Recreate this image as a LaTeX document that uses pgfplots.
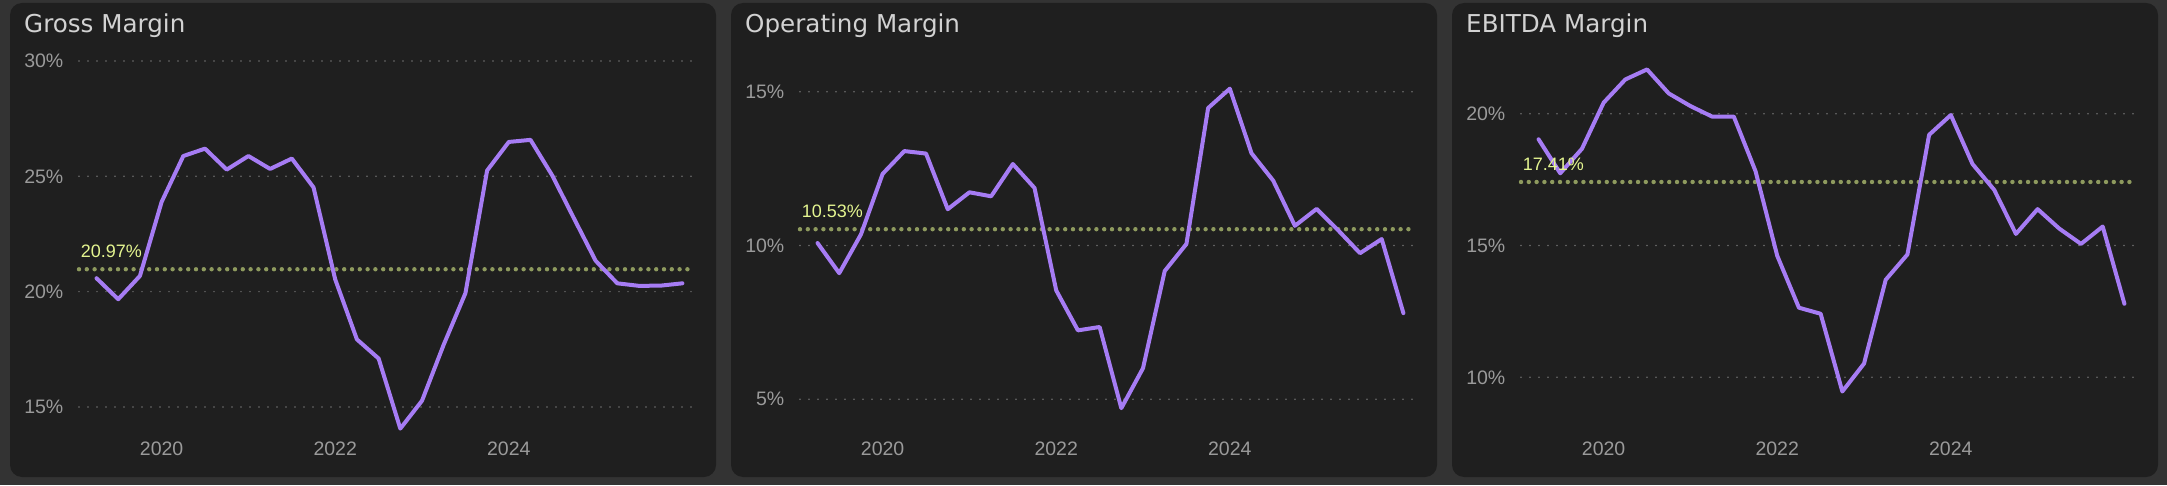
\documentclass[border=0pt]{standalone}
\usepackage{fontspec}
\setmainfont{Liberation Sans}
\newfontfamily\titlefont{DejaVu Sans}
\usepackage{pgfplots}
\pgfplotsset{compat=1.18}
\usepackage{pgfplotstable}

\definecolor{outerbg}{HTML}{333333}
\definecolor{panelbg}{HTML}{1F1F1F}
\definecolor{titlecol}{HTML}{D2D2D2}
\definecolor{tickcol}{HTML}{9A9A9A}
\definecolor{gridcol}{HTML}{6E6E6E}
\definecolor{linecol}{HTML}{A67CF4}
\definecolor{meancol}{HTML}{8E9A5E}
\definecolor{meantext}{HTML}{E4F590}

\pgfplotstableread{
x y
2019.25 20.58
2019.50 19.67
2019.75 20.68
2020.00 23.89
2020.25 25.88
2020.50 26.20
2020.75 25.29
2021.00 25.88
2021.25 25.32
2021.50 25.77
2021.75 24.52
2022.00 20.53
2022.25 17.93
2022.50 17.10
2022.75 14.06
2023.00 15.27
2023.25 17.70
2023.50 19.93
2023.75 25.25
2024.00 26.49
2024.25 26.58
2024.50 25.04
2024.75 23.18
2025.00 21.34
2025.25 20.36
2025.50 20.25
2025.75 20.26
2026.00 20.36
}\gross

\pgfplotstableread{
x y
2019.25 10.08
2019.50 9.10
2019.75 10.36
2020.00 12.33
2020.25 13.07
2020.50 12.99
2020.75 11.18
2021.00 11.73
2021.25 11.60
2021.50 12.65
2021.75 11.87
2022.00 8.54
2022.25 7.24
2022.50 7.35
2022.75 4.71
2023.00 6.01
2023.25 9.17
2023.50 10.05
2023.75 14.47
2024.00 15.10
2024.25 13.00
2024.50 12.11
2024.75 10.64
2025.00 11.19
2025.25 10.49
2025.50 9.75
2025.75 10.21
2026.00 7.80
}\operating

\pgfplotstableread{
x y
2019.25 19.03
2019.50 17.74
2019.75 18.67
2020.00 20.42
2020.25 21.30
2020.50 21.68
2020.75 20.77
2021.00 20.29
2021.25 19.89
2021.50 19.89
2021.75 17.82
2022.00 14.61
2022.25 12.64
2022.50 12.41
2022.75 9.46
2023.00 10.52
2023.25 13.70
2023.50 14.66
2023.75 19.20
2024.00 19.95
2024.25 18.09
2024.50 17.11
2024.75 15.44
2025.00 16.38
2025.25 15.64
2025.50 15.06
2025.75 15.72
2026.00 12.79
}\ebitda

\pgfplotsset{panel/.style={
  scale only axis, width=612.5pt, height=369pt,
  xmin=2019.048, xmax=2026.105,
  clip=false,
  axis line style={draw=none},
  major tick length=0pt,
  ymajorgrids, xmajorgrids=false,
  major grid style={gridcol, line width=1.7pt, line cap=round, dash pattern=on 0pt off 9pt},
  xtick={2020,2022,2024}, xticklabels={2020,2022,2024},
  ticklabel style={font=\fontsize{19.5}{22}\selectfont, text=tickcol},
  xticklabel style={anchor=north, inner sep=0pt, yshift=-11.5pt},
  yticklabel style={anchor=east, inner sep=0pt, xshift=-15.5pt},
  anchor=south west,
}}
\tikzset{
  dataline/.style={linecol, line width=4pt, line join=round, line cap=round},
  meanline/.style={meancol, line width=4.4pt, line cap=round, dash pattern=on 0pt off 7.8pt},
  meanlabel/.style={anchor=base west, inner sep=0pt, text=meantext, font=\fontsize{18}{20}\selectfont, xshift=1.7pt, yshift=11.6pt},
  paneltitle/.style={anchor=base west, inner sep=0pt, text=titlecol, font=\titlefont\fontsize{24.6}{28}\selectfont},
}

\begin{document}
\begin{tikzpicture}
\fill[outerbg] (0pt,0pt) rectangle (2167pt,485pt);
\foreach \L in {10,731,1452}{
  \fill[panelbg, rounded corners=12pt] (\L pt,8pt) rectangle ++(706pt,474pt);
}
\node[paneltitle] at (24pt,452.7pt) {Gross Margin};
\node[paneltitle] at (745pt,452.7pt) {Operating Margin};
\node[paneltitle] at (1466pt,452.7pt) {EBITDA Margin};

\begin{axis}[panel, at={(79pt,55pt)}, ymin=14, ymax=30,
  ytick={15,20,25,30}, yticklabels={15\%,20\%,25\%,30\%}]
\addplot[meanline] coordinates {(2019.048,20.97) (2026.105,20.97)};
\addplot[dataline] table[x=x,y=y] {\gross};
\node[meanlabel] at (axis cs:2019.048,20.97) {20.97\%};
\end{axis}

\begin{axis}[panel, at={(800pt,55pt)}, ymin=4, ymax=16,
  ytick={5,10,15}, yticklabels={5\%,10\%,15\%}]
\addplot[meanline] coordinates {(2019.048,10.53) (2026.105,10.53)};
\addplot[dataline] table[x=x,y=y] {\operating};
\node[meanlabel] at (axis cs:2019.048,10.53) {10.53\%};
\end{axis}

\begin{axis}[panel, at={(1521pt,55pt)}, ymin=8, ymax=22,
  ytick={10,15,20}, yticklabels={10\%,15\%,20\%}]
\addplot[meanline] coordinates {(2019.048,17.41) (2026.105,17.41)};
\addplot[dataline] table[x=x,y=y] {\ebitda};
\node[meanlabel] at (axis cs:2019.048,17.41) {17.41\%};
\end{axis}

\pgfresetboundingbox
\path[use as bounding box] (0pt,0pt) rectangle (2167pt,485pt);
\end{tikzpicture}
\end{document}
